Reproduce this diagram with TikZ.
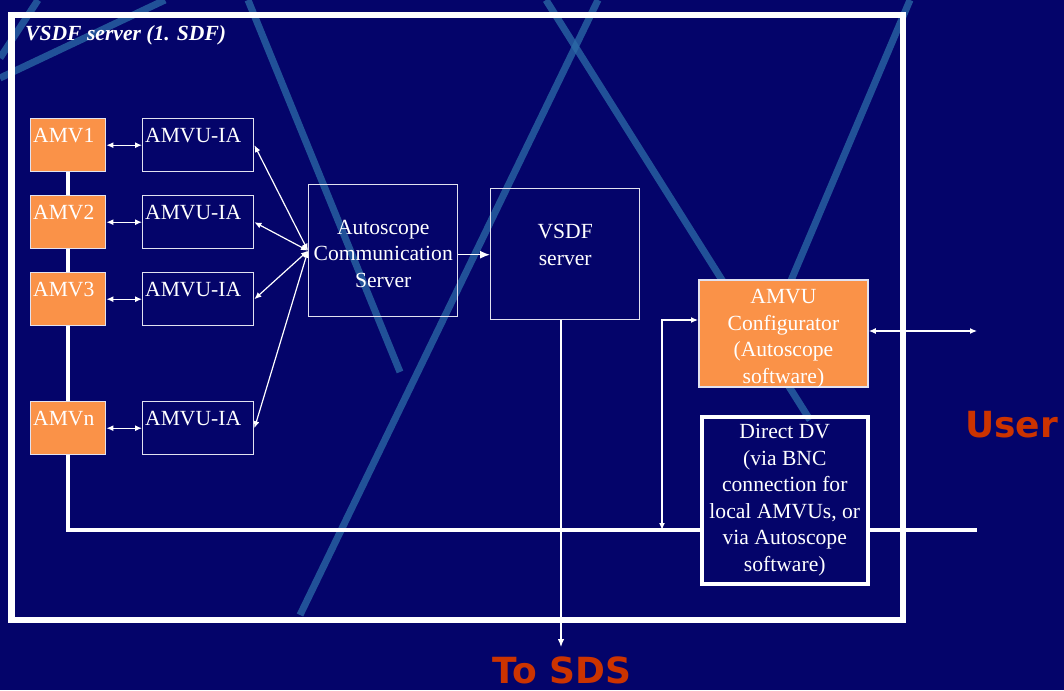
\documentclass[tikz,border=0pt]{standalone}
\usepackage{fontspec}
\setmainfont{Liberation Serif}
\newfontfamily\headsans{DejaVu Sans}
\usetikzlibrary{arrows.meta,calc}

\definecolor{slidebg}{RGB}{4,4,106}
\definecolor{streak}{RGB}{44,108,168}
\definecolor{amvorange}{RGB}{250,146,72}
\definecolor{sdsred}{RGB}{204,51,0}
\definecolor{boxline}{RGB}{226,226,240}

\tikzset{
  every node/.style={text=white, font=\fontsize{21.6}{26.5}\selectfont},
  plainbox/.style={draw=boxline, line width=1.4pt, inner sep=0pt, anchor=north west},
  amvbox/.style={plainbox, fill=amvorange, minimum width=75pt, minimum height=53pt},
  iabox/.style={plainbox, minimum width=111pt, minimum height=53pt},
  boxtext/.style={anchor=base west, inner sep=0pt},
  midtext/.style={align=center, inner sep=0pt},
  twoway/.style={white, line width=1.2pt, {Latex[length=7pt,width=6pt]}-{Latex[length=7pt,width=6pt]}},
  oneway/.style={white, line width=1.1pt, -{Latex[length=8pt,width=6.5pt]}},
  busline/.style={white, line width=3.5pt},
  streakline/.style={streak, line width=7pt, opacity=0.75},
  bigword/.style={anchor=base west, inner sep=0pt, text=sdsred, font=\headsans\fontsize{36}{40}\selectfont\bfseries}
}

\begin{document}
\begin{tikzpicture}[x=1pt,y=-1pt]
  % slide background
  \fill[slidebg] (0,0) rectangle (1064,690);
  \useasboundingbox (0,0) rectangle (1064,690);
  \draw[streakline] (248,0) -- (400,372);
  \draw[streakline] (598,0) -- (300,615);
  \draw[streakline] (546,0) -- (810,420);
  \draw[streakline] (910,0) -- (770,330);
  \draw[streakline] (0,78) -- (165,0);
  \draw[streakline] (38,0) -- (0,58);

  % server frame
  \draw[white, line width=6.5pt] (11.5,15) rectangle (903,620);
  \node[anchor=base west, inner sep=0pt, font=\fontsize{21.6}{26.5}\selectfont\bfseries\itshape] (title) at (25,41) {VSDF server (1. SDF)};

  % cameras
  \node[amvbox] (amv1) at (30,118) {};
  \node[amvbox] (amv2) at (30,195) {};
  \node[amvbox] (amv3) at (30,272) {};
  \node[amvbox] (amvn) at (30,401) {};
  \node[boxtext] (amv1t) at ($(amv1.north west)+(3,24)$) {AMV1};
  \node[boxtext] (amv2t) at ($(amv2.north west)+(3,24)$) {AMV2};
  \node[boxtext] (amv3t) at ($(amv3.north west)+(3,24)$) {AMV3};
  \node[boxtext] (amvnt) at ($(amvn.north west)+(3,24)$) {AMVn};

  % interface boxes
  \node[iabox] (ia1) at (142,118) {};
  \node[iabox] (ia2) at (142,195) {};
  \node[iabox] (ia3) at (142,272) {};
  \node[iabox] (ian) at (142,401) {};
  \node[boxtext] (ia1t) at ($(ia1.north west)+(3,24)$) {AMVU-IA};
  \node[boxtext] (ia2t) at ($(ia2.north west)+(3,24)$) {AMVU-IA};
  \node[boxtext] (ia3t) at ($(ia3.north west)+(3,24)$) {AMVU-IA};
  \node[boxtext] (iant) at ($(ian.north west)+(3,24)$) {AMVU-IA};

  % servers
  \node[plainbox, minimum width=149pt, minimum height=132pt] (acs) at (308,184) {};
  \node[midtext] (acst) at ($(acs.center)+(0,3)$) {Autoscope\\Communication\\Server};
  \node[plainbox, minimum width=149pt, minimum height=131pt] (vsdf) at (490,188) {};
  \node[midtext] (vsdft) at ($(vsdf.center)+(0,-9)$) {VSDF\\server};

  % configurator and direct link
  \node[plainbox, fill=amvorange, line width=1.8pt, minimum width=169pt, minimum height=107pt] (cfg) at (698,279) {};
  \node[midtext] (cfgt) at ($(cfg.center)+(0,5.5)$) {AMVU\\Configurator\\(Autoscope\\software)};
  \node[plainbox, draw=white, line width=3.5pt, minimum width=166pt, minimum height=167pt, align=center] (dv) at (700,415)
    {Direct DV\\(via BNC\\connection for\\local AMVUs, or\\via Autoscope\\software)};

  % outside labels
  \node[bigword] (user) at (965,437) {User};
  \node[bigword] (tosds) at (492,683) {To SDS};

  \coordinate (tap) at (662,530);
  \coordinate (busend) at (977,530);
  \coordinate (cfgin) at (698,320);
  \coordinate (userend) at (977,331);
  \coordinate (sdsend) at (561,647);

  % camera bus
  \draw[busline] (amv1.south) -- (amv2.north);
  \draw[busline] (amv2.south) -- (amv3.north);
  \draw[busline] (amv3.south) -- (amvn.north);
  \draw[busline] (amvn.south) |- (dv.west |- tap);
  \draw[busline] (dv.east |- tap) -- (busend);

  % camera <-> interface
  \draw[twoway] (amv1.east) -- (ia1.west);
  \draw[twoway] (amv2.east) -- (ia2.west);
  \draw[twoway] (amv3.east) -- (ia3.west);
  \draw[twoway] (amvn.east) -- (ian.west);

  % interface <-> communication server
  \draw[twoway] (ia1.east) -- (acs.west);
  \draw[twoway] (ia2.east) -- (acs.west);
  \draw[twoway] (ia3.east) -- (acs.west);
  \draw[twoway] (ian.east) -- (acs.west);

  % server chain
  \draw[white, line width=1.4pt, -{Latex[length=10pt,width=8pt]}] ($(acs.east)+(0,4)$) -- ($(acs.east -| vsdf.west)+(0,4)$);
  \draw[oneway] (vsdf.south -| sdsend) -- (sdsend);

  % configurator links
  \draw[twoway] (cfgin) -| (tap);
  \draw[twoway] (cfg.east |- userend) -- (userend);
\end{tikzpicture}
\end{document}
